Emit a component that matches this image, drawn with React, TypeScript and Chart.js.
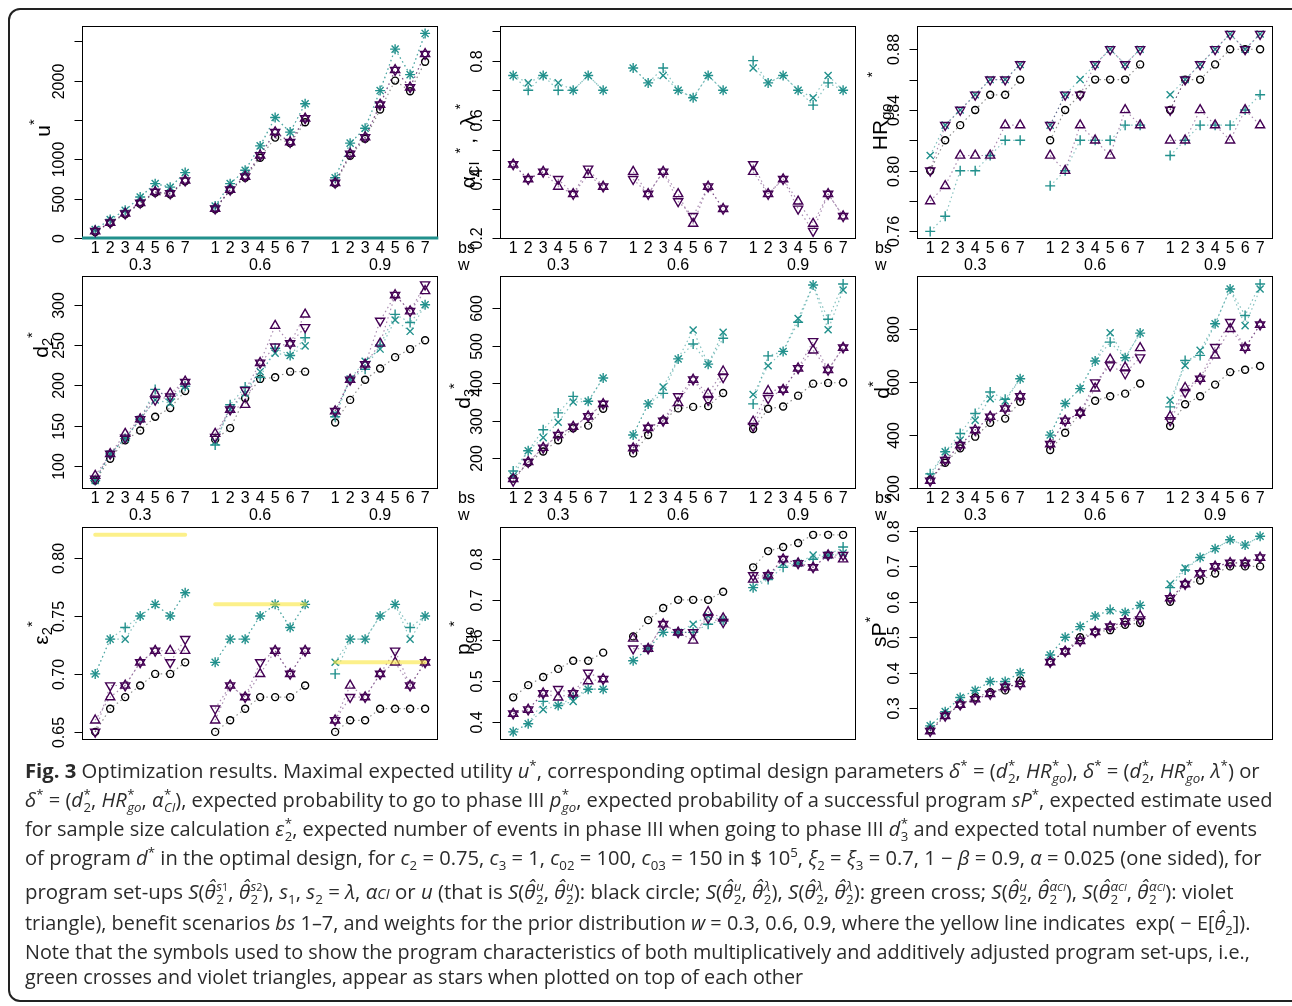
import React, { useEffect, useLayoutEffect, useRef } from "react";
import { Chart, registerables } from "chart.js";

Chart.register(...registerables);

// ---------- shared categories ----------
const bsLabels = ["1", "2", "3", "4", "5", "6", "7"];
const wLabels = ["0.3", "0.6", "0.9"];

// ---------- panel 1: u* ----------
const uCircle = [75, 190, 300, 435, 575, 555, 720, 365, 605, 765, 1020, 1275, 1205, 1470, 690, 1045, 1260, 1632, 2000, 1865, 2240];
const uPlus = [105, 235, 350, 520, 690, 645, 830, 405, 690, 860, 1170, 1530, 1345, 1705, 765, 1205, 1395, 1873, 2400, 2076, 2600];
const uCross = [105, 235, 350, 520, 690, 645, 830, 405, 690, 860, 1170, 1530, 1345, 1705, 765, 1205, 1395, 1873, 2400, 2076, 2600];
const uUp = [85, 195, 310, 445, 585, 565, 730, 372, 613, 780, 1050, 1345, 1218, 1520, 700, 1070, 1280, 1695, 2135, 1915, 2338];
const uDown = [85, 195, 310, 445, 585, 565, 730, 372, 613, 780, 1050, 1345, 1218, 1520, 700, 1070, 1280, 1695, 2135, 1915, 2338];

// ---------- panel 2: alpha_CI*, lambda* ----------
const alPlus = [0.75, 0.7, 0.75, 0.7, 0.7, 0.75, 0.7, 0.775, 0.725, 0.775, 0.7, 0.675, 0.75, 0.7, 0.8, 0.725, 0.75, 0.7, 0.65, 0.725, 0.7];
const alCross = [0.75, 0.725, 0.75, 0.725, 0.7, 0.75, 0.7, 0.775, 0.725, 0.75, 0.7, 0.675, 0.75, 0.7, 0.775, 0.725, 0.75, 0.7, 0.675, 0.75, 0.7];
const alUp = [0.45, 0.4, 0.425, 0.375, 0.35, 0.415, 0.375, 0.425, 0.35, 0.425, 0.35, 0.25, 0.375, 0.3, 0.425, 0.35, 0.4, 0.325, 0.25, 0.35, 0.275];
const alDown = [0.45, 0.4, 0.425, 0.4, 0.35, 0.435, 0.375, 0.4, 0.35, 0.425, 0.325, 0.275, 0.375, 0.3, 0.45, 0.35, 0.4, 0.3, 0.225, 0.35, 0.275];

// ---------- panel 3: HR_go* ----------
const hrCircle = [0.8, 0.82, 0.83, 0.84, 0.85, 0.85, 0.86, 0.82, 0.84, 0.85, 0.86, 0.86, 0.86, 0.87, 0.84, 0.86, 0.86, 0.87, 0.88, 0.88, 0.88];
const hrPlus = [0.76, 0.77, 0.8, 0.8, 0.81, 0.82, 0.82, 0.79, 0.8, 0.82, 0.82, 0.82, 0.83, 0.83, 0.81, 0.82, 0.83, 0.83, 0.83, 0.84, 0.85];
const hrCross = [0.81, 0.83, 0.84, 0.85, 0.86, 0.86, 0.87, 0.83, 0.85, 0.86, 0.87, 0.88, 0.87, 0.88, 0.85, 0.86, 0.87, 0.88, 0.89, 0.88, 0.89];
const hrUp = [0.78, 0.79, 0.81, 0.81, 0.81, 0.83, 0.83, 0.81, 0.8, 0.83, 0.82, 0.81, 0.84, 0.83, 0.82, 0.82, 0.84, 0.83, 0.82, 0.84, 0.83];
const hrDown = [0.8, 0.83, 0.84, 0.85, 0.86, 0.86, 0.87, 0.83, 0.85, 0.85, 0.87, 0.88, 0.87, 0.88, 0.84, 0.86, 0.87, 0.88, 0.89, 0.88, 0.89];

// ---------- panel 4: d2* ----------
const d2Circle = [82, 109, 132, 144, 161, 172, 193, 133, 147, 184, 208, 210, 217, 217, 154, 182, 207, 221, 235, 245, 256];
const d2Plus = [82, 115, 134, 158, 195, 183, 199, 126, 176, 198, 210, 246, 237, 259, 161, 208, 220, 250, 288, 278, 300];
const d2Cross = [82, 115, 134, 158, 182, 178, 199, 130, 170, 190, 217, 240, 237, 249, 165, 208, 230, 245, 281, 267, 300];
const d2Up = [88, 115, 140, 158, 190, 190, 205, 140, 170, 176, 228, 274, 252, 288, 168, 207, 226, 252, 312, 292, 317];
const d2Down = [84, 115, 135, 158, 182, 186, 204, 136, 170, 194, 228, 248, 252, 272, 168, 207, 226, 280, 312, 292, 325];

// ---------- panel 5: d3* ----------
const d3Circle = [146, 188, 218, 248, 280, 287, 332, 213, 262, 301, 333, 337, 339, 374, 278, 332, 338, 367, 399, 401, 402];
const d3Plus = [166, 220, 276, 321, 365, 352, 414, 262, 345, 373, 465, 505, 451, 520, 345, 473, 485, 563, 662, 571, 665];
const d3Cross = [153, 220, 255, 296, 350, 352, 414, 262, 345, 390, 465, 542, 451, 536, 370, 447, 485, 573, 662, 543, 649];
const d3Up = [145, 190, 228, 262, 284, 312, 345, 227, 281, 300, 348, 410, 372, 432, 298, 380, 383, 440, 488, 436, 495];
const d3Down = [140, 190, 228, 262, 284, 312, 345, 227, 281, 300, 365, 410, 355, 416, 286, 360, 383, 440, 512, 436, 495];

// ---------- panel 6: d* ----------
const dCircle = [231, 296, 350, 394, 446, 462, 525, 344, 409, 484, 529, 546, 556, 594, 434, 516, 546, 590, 637, 646, 660];
const dPlus = [254, 337, 406, 481, 562, 535, 612, 400, 519, 575, 679, 750, 691, 784, 506, 681, 700, 819, 950, 850, 969];
const dCross = [244, 337, 381, 456, 537, 528, 612, 400, 519, 575, 679, 785, 691, 784, 531, 662, 719, 819, 950, 812, 950];
const dUp = [228, 306, 362, 419, 469, 500, 546, 366, 454, 484, 576, 685, 655, 728, 470, 578, 612, 700, 800, 729, 816];
const dDown = [228, 306, 362, 419, 469, 500, 546, 366, 454, 484, 598, 662, 632, 692, 455, 562, 612, 731, 825, 729, 816];

// ---------- panel 7: eps2* ----------
const epsCircle = [0.65, 0.67, 0.68, 0.69, 0.7, 0.7, 0.71, 0.65, 0.66, 0.67, 0.68, 0.68, 0.68, 0.69, 0.65, 0.66, 0.66, 0.67, 0.67, 0.67, 0.67];
const epsPlus = [0.7, 0.73, 0.74, 0.75, 0.76, 0.75, 0.77, 0.71, 0.73, 0.73, 0.75, 0.76, 0.74, 0.76, 0.7, 0.73, 0.73, 0.75, 0.76, 0.74, 0.75];
const epsCross = [0.7, 0.73, 0.73, 0.75, 0.76, 0.75, 0.77, 0.71, 0.73, 0.73, 0.75, 0.76, 0.74, 0.76, 0.71, 0.73, 0.73, 0.75, 0.76, 0.73, 0.75];
const epsUp = [0.66, 0.68, 0.69, 0.71, 0.72, 0.72, 0.72, 0.66, 0.69, 0.68, 0.7, 0.72, 0.7, 0.72, 0.66, 0.69, 0.68, 0.7, 0.71, 0.69, 0.71];
const epsDown = [0.65, 0.69, 0.69, 0.71, 0.72, 0.71, 0.73, 0.67, 0.69, 0.68, 0.71, 0.72, 0.7, 0.72, 0.66, 0.68, 0.68, 0.7, 0.72, 0.69, 0.71];
const epsYellow = [0.82, 0.76, 0.71]; // exp(-E[theta2]) per weight w

// ---------- panel 8: p_go* ----------
const pgoCircle = [0.46, 0.49, 0.51, 0.53, 0.55, 0.55, 0.57, 0.61, 0.65, 0.68, 0.7, 0.7, 0.7, 0.72, 0.78, 0.82, 0.83, 0.84, 0.86, 0.86, 0.86];
const pgoPlus = [0.375, 0.395, 0.45, 0.44, 0.46, 0.48, 0.48, 0.55, 0.58, 0.62, 0.62, 0.62, 0.64, 0.65, 0.73, 0.75, 0.78, 0.79, 0.8, 0.81, 0.83];
const pgoCross = [0.375, 0.395, 0.43, 0.44, 0.45, 0.48, 0.48, 0.55, 0.58, 0.62, 0.62, 0.64, 0.66, 0.65, 0.73, 0.76, 0.79, 0.79, 0.81, 0.81, 0.815];
const pgoUp = [0.42, 0.43, 0.47, 0.46, 0.47, 0.5, 0.505, 0.605, 0.58, 0.64, 0.62, 0.6, 0.67, 0.655, 0.75, 0.76, 0.8, 0.79, 0.78, 0.81, 0.8];
const pgoDown = [0.42, 0.43, 0.47, 0.48, 0.47, 0.52, 0.505, 0.58, 0.58, 0.64, 0.62, 0.62, 0.655, 0.645, 0.76, 0.76, 0.8, 0.79, 0.78, 0.81, 0.81];

// ---------- panel 9: sP* ----------
const spCircle = [0.24, 0.28, 0.31, 0.33, 0.345, 0.35, 0.378, 0.43, 0.46, 0.5, 0.515, 0.52, 0.535, 0.54, 0.6, 0.65, 0.66, 0.68, 0.7, 0.7, 0.7];
const spPlus = [0.25, 0.29, 0.33, 0.35, 0.375, 0.375, 0.4, 0.45, 0.5, 0.53, 0.56, 0.578, 0.57, 0.59, 0.64, 0.69, 0.725, 0.75, 0.775, 0.76, 0.785];
const spCross = [0.25, 0.29, 0.33, 0.35, 0.375, 0.375, 0.4, 0.45, 0.5, 0.53, 0.56, 0.575, 0.57, 0.59, 0.65, 0.695, 0.725, 0.75, 0.775, 0.76, 0.785];
const spUp = [0.235, 0.278, 0.31, 0.325, 0.34, 0.36, 0.368, 0.43, 0.46, 0.49, 0.515, 0.53, 0.545, 0.56, 0.61, 0.65, 0.68, 0.7, 0.71, 0.71, 0.725];
const spDown = [0.235, 0.278, 0.31, 0.325, 0.34, 0.36, 0.368, 0.43, 0.46, 0.49, 0.515, 0.53, 0.545, 0.55, 0.61, 0.65, 0.68, 0.7, 0.71, 0.71, 0.725];

// ---------- y-axis ticks ----------
const uTicks = [0, 500, 1000, 1500, 2000, 2500];
const uTickLabels = ["0", "500", "1000", "", "2000", ""];
const alTicks = [0.2, 0.3, 0.4, 0.5, 0.6, 0.7, 0.8, 0.9];
const alTickLabels = ["0.2", "", "0.4", "", "0.6", "", "0.8", ""];
const hrTicks = [0.76, 0.78, 0.8, 0.82, 0.84, 0.86, 0.88];
const hrTickLabels = ["0.76", "", "0.80", "", "0.84", "", "0.88"];
const d2Ticks = [100, 150, 200, 250, 300];
const d2TickLabels = ["100", "150", "200", "250", "300"];
const d3Ticks = [200, 300, 400, 500, 600];
const d3TickLabels = ["200", "300", "400", "500", "600"];
const dTicks = [200, 400, 600, 800];
const dTickLabels = ["200", "400", "600", "800"];
const epsTicks = [0.65, 0.7, 0.75, 0.8];
const epsTickLabels = ["0.65", "0.70", "0.75", "0.80"];
const pgoTicks = [0.4, 0.5, 0.6, 0.7, 0.8];
const pgoTickLabels = ["0.4", "0.5", "0.6", "0.7", "0.8"];
const spTicks = [0.3, 0.4, 0.5, 0.6, 0.7, 0.8];
const spTickLabels = ["0.3", "0.4", "0.5", "0.6", "0.7", "0.8"];

// ---------- styling / layout ----------
const TEAL = "#21908C";
const VIOLET = "#440154";
const TEAL_LINE = "rgba(33,144,140,0.55)";
const VIOLET_LINE = "rgba(68,1,84,0.45)";
const BLACK_LINE = "rgba(0,0,0,0.45)";
const YELLOW = "rgba(250,230,60,0.6)";
const TICK_FONT = '16px "Liberation Sans", Arial, Helvetica, sans-serif';
const X_MIN = 0.12;
const X_MAX = 23.88;
const GROUP_STEP = 8;
const COL_LEFT = [82, 500, 917];
const ROW_TOP = [25, 275, 526];
const PLOT_W = 357;
const PLOT_H = 214;
const PAD_L = 56;
const PAD_T = 6;
const PAD_R = 6;
const PAD_B = 38;

const xOf = (g: number, i: number) => g * GROUP_STEP + i + 1;

function toPoints(vals: number[]) {
  const pts: { x: number; y: number | null }[] = [];
  for (let g = 0; g < 3; g++) {
    for (let i = 0; i < 7; i++) pts.push({ x: xOf(g, i), y: vals[g * 7 + i] });
    if (g < 2) pts.push({ x: xOf(g, 7), y: null });
  }
  return pts;
}

function markerSet(vals: number[], color: string, lineColor: string, style: string, radius: number, rotation = 0) {
  return {
    data: toPoints(vals),
    showLine: true,
    spanGaps: false,
    borderColor: lineColor,
    borderWidth: 1.2,
    borderDash: [1.5, 3],
    fill: false,
    tension: 0,
    pointStyle: style,
    pointRadius: radius,
    pointHoverRadius: radius,
    pointBorderColor: color,
    pointBackgroundColor: "rgba(0,0,0,0)",
    pointBorderWidth: 1.4,
    pointRotation: rotation,
  };
}

type PanelDef = {
  key: string;
  col: number;
  row: number;
  yMin: number;
  yMax: number;
  ticks: number[];
  tickLabels: string[];
  circle?: number[];
  plus: number[];
  cross: number[];
  up: number[];
  down: number[];
  showX: boolean;
  showBsW: boolean;
  zeroLine?: boolean;
  yellow?: number[];
};

const panels: PanelDef[] = [
  { key: "u", col: 0, row: 0, yMin: -14, yMax: 2698, ticks: uTicks, tickLabels: uTickLabels, circle: uCircle, plus: uPlus, cross: uCross, up: uUp, down: uDown, showX: true, showBsW: false, zeroLine: true },
  { key: "al", col: 1, row: 0, yMin: 0.198, yMax: 0.918, ticks: alTicks, tickLabels: alTickLabels, plus: alPlus, cross: alCross, up: alUp, down: alDown, showX: true, showBsW: true },
  { key: "hr", col: 2, row: 0, yMin: 0.755, yMax: 0.8955, ticks: hrTicks, tickLabels: hrTickLabels, circle: hrCircle, plus: hrPlus, cross: hrCross, up: hrUp, down: hrDown, showX: true, showBsW: true },
  { key: "d2", col: 0, row: 1, yMin: 71.5, yMax: 336, ticks: d2Ticks, tickLabels: d2TickLabels, circle: d2Circle, plus: d2Plus, cross: d2Cross, up: d2Up, down: d2Down, showX: true, showBsW: false },
  { key: "d3", col: 1, row: 1, yMin: 118, yMax: 687, ticks: d3Ticks, tickLabels: d3TickLabels, circle: d3Circle, plus: d3Plus, cross: d3Cross, up: d3Up, down: d3Down, showX: true, showBsW: true },
  { key: "d", col: 2, row: 1, yMin: 197, yMax: 1000, ticks: dTicks, tickLabels: dTickLabels, circle: dCircle, plus: dPlus, cross: dCross, up: dUp, down: dDown, showX: true, showBsW: true },
  { key: "eps", col: 0, row: 2, yMin: 0.643, yMax: 0.827, ticks: epsTicks, tickLabels: epsTickLabels, circle: epsCircle, plus: epsPlus, cross: epsCross, up: epsUp, down: epsDown, showX: false, showBsW: false, yellow: epsYellow },
  { key: "pgo", col: 1, row: 2, yMin: 0.355, yMax: 0.88, ticks: pgoTicks, tickLabels: pgoTickLabels, circle: pgoCircle, plus: pgoPlus, cross: pgoCross, up: pgoUp, down: pgoDown, showX: false, showBsW: false },
  { key: "sp", col: 2, row: 2, yMin: 0.21, yMax: 0.812, ticks: spTicks, tickLabels: spTickLabels, circle: spCircle, plus: spPlus, cross: spCross, up: spUp, down: spDown, showX: false, showBsW: false },
];

function framePlugin(p: PanelDef) {
  return {
    id: "frame_" + p.key,
    beforeDatasetsDraw(chart: any) {
      const { ctx, chartArea: a } = chart;
      const ys = chart.scales.y;
      const xs = chart.scales.x;
      ctx.save();
      ctx.strokeStyle = "#000";
      ctx.lineWidth = 1;
      const l = Math.round(a.left) + 0.5;
      const t = Math.round(a.top) + 0.5;
      const r = Math.round(a.right) - 0.5;
      const b = Math.round(a.bottom) - 0.5;
      ctx.strokeRect(l, t, r - l, b - t);
      ctx.fillStyle = "#000";
      ctx.font = TICK_FONT;
      p.ticks.forEach((v, i) => {
        const py = Math.round(ys.getPixelForValue(v)) + 0.5;
        ctx.beginPath();
        ctx.moveTo(l - 8, py);
        ctx.lineTo(l, py);
        ctx.stroke();
        const lab = p.tickLabels[i];
        if (lab) {
          ctx.save();
          ctx.translate(l - 23, py);
          ctx.rotate(-Math.PI / 2);
          ctx.textAlign = "center";
          ctx.textBaseline = "middle";
          ctx.fillText(lab, 0, 0);
          ctx.restore();
        }
      });
      if (p.showX) {
        ctx.textAlign = "center";
        ctx.textBaseline = "middle";
        for (let g = 0; g < 3; g++) {
          for (let i = 0; i < 7; i++) ctx.fillText(bsLabels[i], xs.getPixelForValue(xOf(g, i)), a.bottom + 10);
          ctx.fillText(wLabels[g], xs.getPixelForValue(xOf(g, 3)), a.bottom + 27);
        }
      }
      if (p.showBsW) {
        ctx.textAlign = "left";
        ctx.textBaseline = "middle";
        ctx.fillText("bs", a.left - 42, a.bottom + 10);
        ctx.fillText("w", a.left - 42, a.bottom + 27);
      }
      ctx.restore();
    },
  };
}

function Panel({ p }: { p: PanelDef }) {
  const ref = useRef<HTMLCanvasElement | null>(null);
  const W = PLOT_W + PAD_L + PAD_R;
  const H = PLOT_H + PAD_T + PAD_B;
  useEffect(() => {
    const datasets: any[] = [];
    if (p.yellow) {
      const pts: any[] = [];
      p.yellow.forEach((v, g) => {
        pts.push({ x: xOf(g, 0), y: v });
        pts.push({ x: xOf(g, 6), y: v });
        if (g < 2) pts.push({ x: xOf(g, 7), y: null });
      });
      datasets.push({ data: pts, showLine: true, spanGaps: false, borderColor: YELLOW, borderWidth: 4, borderCapStyle: "round", pointRadius: 0, fill: false });
    }
    datasets.push(markerSet(p.up, VIOLET, VIOLET_LINE, "triangle", 5.3, 0));
    datasets.push(markerSet(p.down, VIOLET, VIOLET_LINE, "triangle", 5.3, 180));
    datasets.push(markerSet(p.cross, TEAL, TEAL_LINE, "crossRot", 5));
    datasets.push(markerSet(p.plus, TEAL, TEAL_LINE, "cross", 5));
    if (p.circle) datasets.push(markerSet(p.circle, "#000", BLACK_LINE, "circle", 3.5));
    if (p.zeroLine) {
      datasets.push({ data: [{ x: X_MIN, y: 0 }, { x: X_MAX, y: 0 }], showLine: true, borderColor: TEAL, borderWidth: 3, pointRadius: 0, fill: false, clip: 4 });
    }
    const chart = new Chart(ref.current as HTMLCanvasElement, {
      type: "scatter",
      data: { datasets },
      options: {
        responsive: false,
        animation: false,
        devicePixelRatio: 1,
        events: [],
        layout: { padding: { left: PAD_L, top: PAD_T, right: PAD_R, bottom: PAD_B } },
        scales: {
          x: { type: "linear", min: X_MIN, max: X_MAX, display: false },
          y: { type: "linear", min: p.yMin, max: p.yMax, display: false },
        },
        plugins: { legend: { display: false }, tooltip: { enabled: false } },
      } as any,
      plugins: [framePlugin(p)],
    });
    return () => chart.destroy();
  }, []);
  return (
    <canvas
      ref={ref}
      width={W}
      height={H}
      style={{ position: "absolute", left: COL_LEFT[p.col] - PAD_L, top: ROW_TOP[p.row] - PAD_T, width: W, height: H }}
    />
  );
}

// ---------- axis titles (HTML text) ----------
const titleStyle = (cx: number, cy: number): React.CSSProperties => ({
  position: "absolute",
  left: cx,
  top: cy,
  transform: "translate(-50%,-50%) rotate(-90deg)",
  fontFamily: '"Liberation Sans", Arial, Helvetica, sans-serif',
  fontSize: 21,
  lineHeight: 1,
  whiteSpace: "nowrap",
  color: "#000",
});
const tSub: React.CSSProperties = { fontSize: "0.7em", verticalAlign: "-0.3em", lineHeight: 0 };
const tSup: React.CSSProperties = { fontSize: "0.7em", verticalAlign: "0.7em", lineHeight: 0 };
const tSupGap = (gap: number): React.CSSProperties => ({ ...tSup, marginLeft: gap });

const titles = [
  { cx: 42, cy: 128, node: <>u<span style={tSup}>*</span></> },
  {
    cx: 467,
    cy: 146,
    node: (
      <>
        α<span style={tSub}>CI</span>
        <span style={tSupGap(8)}>*</span>
        <span style={{ marginLeft: 4 }}>,</span>
        <span style={{ marginLeft: 12 }}>λ</span>
        <span style={tSupGap(6)}>*</span>
      </>
    ),
  },
  { cx: 879, cy: 111, node: <>HR<span style={tSub}>go</span><span style={tSupGap(26)}>*</span></> },
  { cx: 40, cy: 345, node: <>d<span style={tSub}>2</span><span style={tSup}>*</span></> },
  { cx: 462, cy: 396, node: <>d<span style={tSub}>3</span><span style={tSup}>*</span></> },
  { cx: 881, cy: 390, node: <>d<span style={tSup}>*</span></> },
  { cx: 40, cy: 633, node: <>ε<span style={tSub}>2</span><span style={tSup}>*</span></> },
  { cx: 462, cy: 638, node: <>p<span style={tSub}>go</span><span style={tSup}>*</span></> },
  { cx: 878, cy: 632, node: <>sP<span style={tSup}>*</span></> },
];

// ---------- caption helpers ----------
const Sup = ({ children }: { children: React.ReactNode }) => (
  <span style={{ fontSize: "0.66em", verticalAlign: "0.6em", lineHeight: 0 }}>{children}</span>
);
const Sub = ({ children }: { children: React.ReactNode }) => (
  <span style={{ fontSize: "0.66em", verticalAlign: "-0.35em", lineHeight: 0 }}>{children}</span>
);
const SS = ({ sup, sub }: { sup: React.ReactNode; sub: React.ReactNode }) => (
  <span style={{ display: "inline-block", fontSize: "0.66em", lineHeight: 1, verticalAlign: "-0.4em", textAlign: "left", marginLeft: "0.04em" }}>
    <span style={{ display: "block" }}>{sup}</span>
    <span style={{ display: "block" }}>{sub}</span>
  </span>
);
const Th = ({ sup }: { sup: React.ReactNode }) => (
  <>
    <i>θ̂</i>
    <SS sup={sup} sub="2" />
  </>
);
const aCI = (
  <>
    <i>α</i>
    <span style={{ fontSize: "0.7em" }}>
      <i>CI</i>
    </span>
  </>
);
const supACI = (
  <>
    <i>α</i>
    <span style={{ fontSize: "0.75em" }}>
      <i>CI</i>
    </span>
  </>
);
const supS = (n: string) => (
  <>
    <i>s</i>
    <span style={{ fontSize: "0.8em" }}>{n}</span>
  </>
);

const captionLines: { cy: number; target: number; node: React.ReactNode }[] = [
  {
    cy: 771,
    target: 1235,
    node: (
      <>
        <b>Fig. 3</b> Optimization results. Maximal expected utility <i>u</i>
        <Sup>*</Sup>, corresponding optimal design parameters <i>δ</i>
        <Sup>*</Sup> = (<i>d</i>
        <SS sup="*" sub="2" />, <i>HR</i>
        <SS sup="*" sub={<i>go</i>} />), <i>δ</i>
        <Sup>*</Sup> = (<i>d</i>
        <SS sup="*" sub="2" />, <i>HR</i>
        <SS sup="*" sub={<i>go</i>} />, <i>λ</i>
        <Sup>*</Sup>) or
      </>
    ),
  },
  {
    cy: 800,
    target: 1248,
    node: (
      <>
        <i>δ</i>
        <Sup>*</Sup> = (<i>d</i>
        <SS sup="*" sub="2" />, <i>HR</i>
        <SS sup="*" sub={<i>go</i>} />, <i>α</i>
        <SS sup="*" sub={<i>CI</i>} />), expected probability to go to phase III <i>p</i>
        <SS sup="*" sub={<i>go</i>} />, expected probability of a successful program <i>sP</i>
        <Sup>*</Sup>, expected estimate used
      </>
    ),
  },
  {
    cy: 829,
    target: 1232,
    node: (
      <>
        for sample size calculation <i>ε</i>
        <SS sup="*" sub="2" />, expected number of events in phase III when going to phase III <i>d</i>
        <SS sup="*" sub="3" /> and expected total number of events
      </>
    ),
  },
  {
    cy: 858,
    target: 1237,
    node: (
      <>
        of program <i>d</i>
        <Sup>*</Sup> in the optimal design, for <i>c</i>
        <Sub>2</Sub> = 0.75, <i>c</i>
        <Sub>3</Sub> = 1, <i>c</i>
        <Sub>02</Sub> = 100, <i>c</i>
        <Sub>03</Sub> = 150 in $ 10<Sup>5</Sup>, <i>ξ</i>
        <Sub>2</Sub> = <i>ξ</i>
        <Sub>3</Sub> = 0.7, 1 − <i>β</i> = 0.9, <i>α</i> = 0.025 (one sided), for
      </>
    ),
  },
  {
    cy: 892,
    target: 1209,
    node: (
      <>
        program set-ups <i>S</i>(<Th sup={supS("1")} />, <Th sup={supS("2")} />), <i>s</i>
        <Sub>1</Sub>, <i>s</i>
        <Sub>2</Sub> = <i>λ</i>, {aCI} or <i>u</i> (that is <i>S</i>(<Th sup={<i>u</i>} />, <Th sup={<i>u</i>} />): black circle; <i>S</i>(
        <Th sup={<i>u</i>} />, <Th sup={<i>λ</i>} />), <i>S</i>(<Th sup={<i>λ</i>} />, <Th sup={<i>λ</i>} />): green cross; <i>S</i>(
        <Th sup={<i>u</i>} />, <Th sup={supACI} />), <i>S</i>(<Th sup={supACI} />, <Th sup={supACI} />): violet
      </>
    ),
  },
  {
    cy: 923,
    target: 1225,
    node: (
      <>
        triangle), benefit scenarios <i>bs</i> 1–7, and weights for the prior distribution <i>w</i> = 0.3, 0.6, 0.9, where the yellow line indicates
        &nbsp;exp( − E[<i>θ̂</i>
        <Sub>2</Sub>]).
      </>
    ),
  },
  {
    cy: 952,
    target: 1225,
    node: <>Note that the symbols used to show the program characteristics of both multiplicatively and additively adjusted program set-ups, i.e.,</>,
  },
  {
    cy: 977,
    target: 778,
    node: <>green crosses and violet triangles, appear as stars when plotted on top of each other</>,
  },
];

function CaptionLine({ cy, target, node }: { cy: number; target: number; node: React.ReactNode }) {
  const outer = useRef<HTMLDivElement | null>(null);
  const inner = useRef<HTMLSpanElement | null>(null);
  useLayoutEffect(() => {
    const fit = () => {
      if (!outer.current || !inner.current) return;
      const w = inner.current.offsetWidth;
      if (w > 0) {
        const s = Math.max(0.8, Math.min(1.2, target / w));
        outer.current.style.transform = `scaleX(${s})`;
      }
    };
    fit();
    const fonts = (document as any).fonts;
    if (fonts && fonts.ready) fonts.ready.then(fit);
  }, []);
  return (
    <div
      ref={outer}
      style={{
        position: "absolute",
        left: 25,
        top: cy - 13,
        height: 26,
        lineHeight: "26px",
        whiteSpace: "nowrap",
        transformOrigin: "0 50%",
        fontFamily: '"Open Sans", "Noto Sans", sans-serif',
        fontSize: 19.5,
        color: "#2b2b2b",
      }}
    >
      <span ref={inner} style={{ display: "inline-block" }}>
        {node}
      </span>
    </div>
  );
}

export default function App() {
  return (
    <div style={{ position: "fixed", left: 0, top: 0, width: 1292, height: 1006, overflow: "hidden", background: "#fff" }}>
      <div
        style={{
          position: "absolute",
          left: 8,
          top: 8,
          width: 1310,
          height: 994,
          border: "2px solid #222",
          borderRadius: 12,
          boxSizing: "border-box",
        }}
      />
      {panels.map((p) => (
        <Panel key={p.key} p={p} />
      ))}
      {titles.map((t, i) => (
        <div key={i} style={titleStyle(t.cx, t.cy)}>
          {t.node}
        </div>
      ))}
      {captionLines.map((c, i) => (
        <CaptionLine key={i} cy={c.cy} target={c.target} node={c.node} />
      ))}
    </div>
  );
}
